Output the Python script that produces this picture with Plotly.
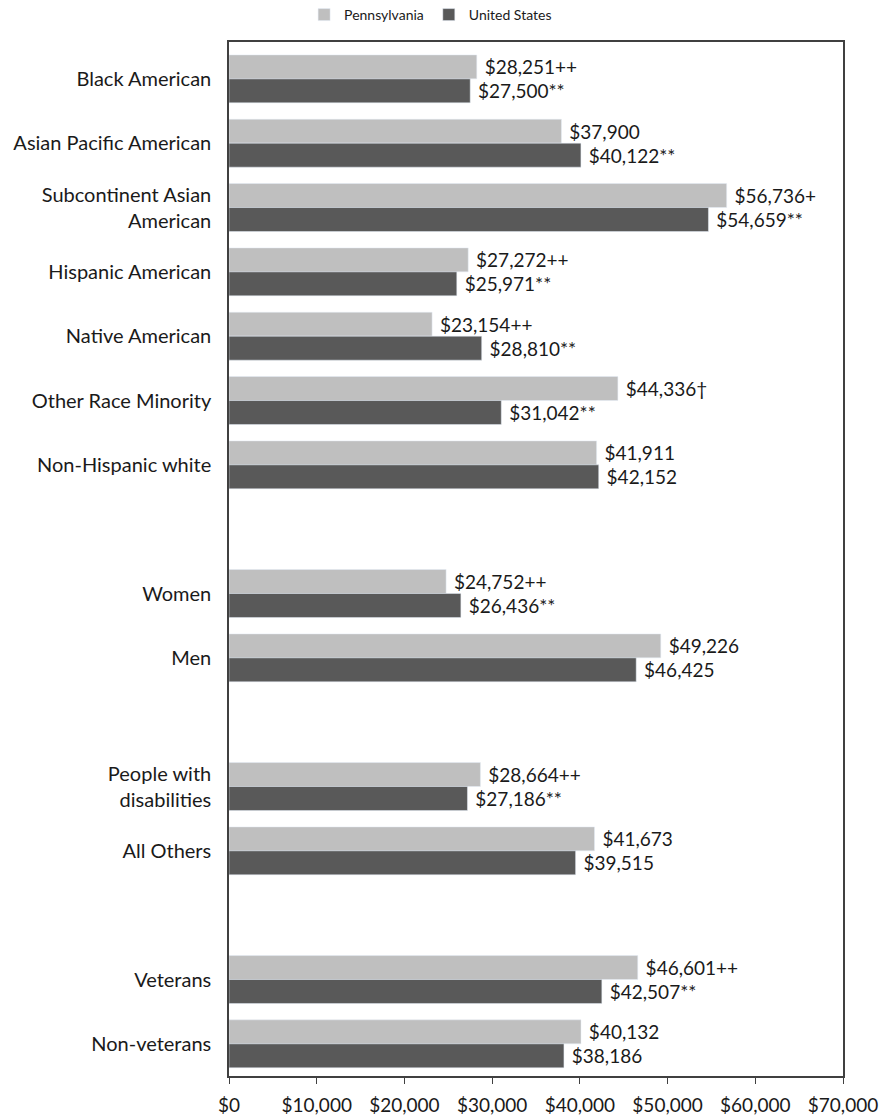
import plotly.graph_objects as go

# categories top to bottom, blank entries are the group spacers
categories = ["Black American", "Asian Pacific American", "Subcontinent Asian<br>American",
              "Hispanic American", "Native American", "Other Race Minority", "Non-Hispanic white",
              " ", "Women", "Men", "  ", "People with<br>disabilities", "All Others", "   ",
              "Veterans", "Non-veterans"]

pa_vals = [28251, 37900, 56736, 27272, 23154, 44336, 41911,
           None, 24752, 49226, None, 28664, 41673, None, 46601, 40132]
us_vals = [27500, 40122, 54659, 25971, 28810, 31042, 42152,
           None, 26436, 46425, None, 27186, 39515, None, 42507, 38186]

pa_marks = ["++", "", "+", "++", "++", "\u2020", "", "", "++", "", "", "++", "", "", "++", ""]
us_marks = ["**", "**", "**", "**", "**", "**", "", "", "**", "", "", "**", "", "", "**", ""]

def lbl(vals, marks):
    # leading space gives the small gap after the bar end
    return ["" if v is None else " ${:,}{}".format(v, m) for v, m in zip(vals, marks)]

FONT = "Lato, sans-serif"
TXT = "#1a1a1a"

fig = go.Figure()
fig.add_trace(go.Bar(y=categories, x=pa_vals, name="Pennsylvania", orientation="h",
                     marker=dict(color="#bfbfbf"), text=lbl(pa_vals, pa_marks),
                     textposition="outside", cliponaxis=False,
                     textfont=dict(color=TXT, size=19, family=FONT)))
fig.add_trace(go.Bar(y=categories, x=us_vals, name="United States", orientation="h",
                     marker=dict(color="#595959"), text=lbl(us_vals, us_marks),
                     textposition="outside", cliponaxis=False,
                     textfont=dict(color=TXT, size=19, family=FONT)))

fig.update_layout(
    width=886, height=1117,
    barmode="group", bargap=0.255, bargroupgap=0,
    plot_bgcolor="white", paper_bgcolor="white",
    margin=dict(l=229, r=43, t=42, b=41, autoexpand=False),
    font=dict(family=FONT, size=19, color=TXT),
    legend=dict(orientation="h", xref="container", x=0.486, xanchor="center",
                yref="container", y=0.9866, yanchor="middle",
                font=dict(size=14), traceorder="normal"),
)
fig.update_xaxes(range=[0, 70000], dtick=10000, tickprefix="$", tickformat=",",
                 showgrid=False, zeroline=False, showline=True, mirror=True,
                 linecolor="#404040", linewidth=1.5, ticks="outside", ticklen=6,
                 tickcolor="#404040", tickfont=dict(size=19), ticklabelstandoff=5,
                 automargin=False)
fig.update_yaxes(categoryorder="array", categoryarray=categories, range=[15.5, -0.573],
                 showgrid=False, showline=True, mirror=True, linecolor="#404040",
                 linewidth=1.5, ticks="", tickfont=dict(size=20), ticklabelstandoff=12,
                 automargin=False)

# drop the default 8px body margin so the figure fills the window exactly
fig.write_html("out.html", config={"displayModeBar": False},
               post_script="document.body.style.margin='0';document.body.style.overflow='hidden';")
